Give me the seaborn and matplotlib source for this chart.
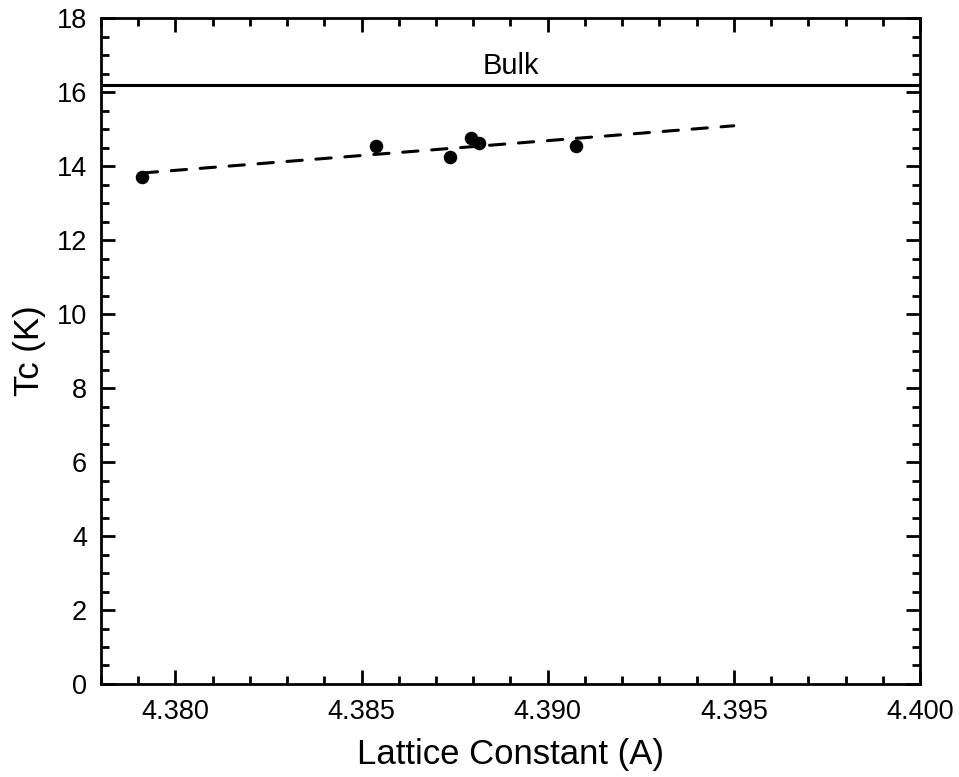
import numpy as np
import pandas as pd
import matplotlib
matplotlib.use("Agg")
import matplotlib.pyplot as plt
from matplotlib.ticker import MultipleLocator, FormatStrFormatter
import seaborn as sns

# データ
lattice_const = [4.37911, 4.38540, 4.38737, 4.38795, 4.38815, 4.39077]
tc_values = [13.70, 14.55, 14.24, 14.75, 14.63, 14.55]
bulk_tc = 16.2
fit_x_end = 4.395

df = pd.DataFrame({"a": lattice_const, "Tc": tc_values})

sns.set_style("ticks")
plt.rcParams["font.family"] = ["Liberation Sans", "DejaVu Sans"]
plt.rcParams["text.color"] = "black"
plt.rcParams["axes.labelcolor"] = "black"

fig = plt.figure(figsize=(9.59, 7.77), dpi=100)
ax = fig.add_axes([0.1053, 0.1197, 0.854, 0.857])

# 線形フィット
slope, intercept = np.polyfit(df["a"], df["Tc"], 1)
fit_x = np.array([df["a"].min(), fit_x_end])
fit_df = pd.DataFrame({"a": fit_x, "Tc": slope * fit_x + intercept})
sns.lineplot(data=fit_df, x="a", y="Tc", ax=ax, color="black", linewidth=2.2,
             linestyle=(0, (5, 4.5)), dash_capstyle="round")

sns.scatterplot(data=df, x="a", y="Tc", ax=ax, color="black", s=95,
                edgecolor="black", linewidth=0, zorder=3)

ax.axhline(bulk_tc, color="black", linewidth=2.2)
ax.text(4.389, bulk_tc + 0.12, "Bulk", ha="center", va="bottom", fontsize=21,
        color="black")

ax.set_xlim(4.378, 4.400)
ax.set_ylim(0, 18)
ax.xaxis.set_major_locator(MultipleLocator(0.005))
ax.xaxis.set_minor_locator(MultipleLocator(0.001))
ax.xaxis.set_major_formatter(FormatStrFormatter("%.3f"))
ax.yaxis.set_major_locator(MultipleLocator(2))
ax.yaxis.set_minor_locator(MultipleLocator(0.5))

ax.tick_params(which="both", direction="in", top=True, right=True,
               width=2, colors="black", labelsize=19.5)
ax.tick_params(axis="x", pad=11)
ax.tick_params(axis="y", pad=10)
ax.tick_params(which="major", length=10)
ax.tick_params(which="minor", length=5.5)
for s in ax.spines.values():
    s.set_linewidth(2)
    s.set_color("black")

ax.set_xlabel("Lattice Constant (A)", fontsize=25, labelpad=9)
ax.set_ylabel("Tc (K)", fontsize=25, labelpad=8)

fig.savefig("out.png", dpi=100)
